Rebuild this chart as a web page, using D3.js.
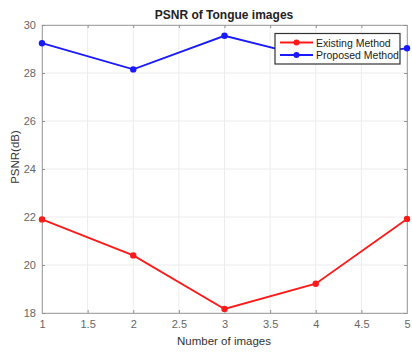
<!DOCTYPE html>
<html>
<head>
<meta charset="utf-8">
<script src="https://cdn.jsdelivr.net/npm/d3@7"></script>
<style>
  body { margin: 0; background: #fff; }
  svg { font-family: "Liberation Sans", Arial, sans-serif; }
</style>
</head>
<body>
<div id="holder"></div>
<script>
// data
const imageCounts = [1, 2, 3, 4, 5];
const existingMethod = [21.9, 20.4, 18.17, 19.22, 21.92];
const proposedMethod = [29.24, 28.15, 29.55, 28.6, 29.03];
const xTicks = [1, 1.5, 2, 2.5, 3, 3.5, 4, 4.5, 5];
const yTicks = [18, 20, 22, 24, 26, 28, 30];
const seriesNames = ["Existing Method", "Proposed Method"];

const w = 412;
const h = 352;
const padLeft = 42, padRight = 407, padTop = 25, padBottom = 313;

let svg = d3.select("#holder")
    .append("svg")
    .attr("width", w)
    .attr("height", h);

let xScale = d3.scaleLinear().domain([1, 5]).range([padLeft, padRight]);
let yScale = d3.scaleLinear().domain([18, 30]).range([padBottom, padTop]);

// grid
svg.append("g")
    .selectAll("line")
    .data(xTicks)
    .enter()
    .append("line")
    .attr("x1", d => xScale(d)).attr("x2", d => xScale(d))
    .attr("y1", padTop).attr("y2", padBottom)
    .attr("stroke", "#ececec").attr("stroke-width", 1);
svg.append("g")
    .selectAll("line")
    .data(yTicks)
    .enter()
    .append("line")
    .attr("x1", padLeft).attr("x2", padRight)
    .attr("y1", d => yScale(d)).attr("y2", d => yScale(d))
    .attr("stroke", "#ececec").attr("stroke-width", 1);

// box
svg.append("rect")
    .attr("x", padLeft).attr("y", padTop)
    .attr("width", padRight - padLeft).attr("height", padBottom - padTop)
    .attr("fill", "none").attr("stroke", "#dcdcdc").attr("stroke-width", 1);

// axes
const xAxis = d3.axisBottom(xScale).tickValues(xTicks).tickSize(-3).tickPadding(7).tickFormat(d3.format("~g"));
svg.append("g")
    .attr("transform", "translate(0," + padBottom + ")")
    .attr("id", "x-axis")
    .call(xAxis);
const xAxisTop = d3.axisTop(xScale).tickValues(xTicks).tickSize(-3).tickFormat("");
svg.append("g")
    .attr("transform", "translate(0," + padTop + ")")
    .call(xAxisTop);

const yAxis = d3.axisLeft(yScale).tickValues(yTicks).tickSize(-3).tickPadding(6);
svg.append("g")
    .attr("transform", "translate(" + padLeft + ",0)")
    .attr("id", "y-axis")
    .call(yAxis);
const yAxisRight = d3.axisRight(yScale).tickValues(yTicks).tickSize(-3).tickFormat("");
svg.append("g")
    .attr("transform", "translate(" + padRight + ",0)")
    .call(yAxisRight);

svg.selectAll(".domain").attr("stroke", "#a8a8a8").attr("stroke-width", 1);
svg.selectAll(".tick line").attr("stroke", "#909090");
svg.selectAll(".tick text")
    .attr("fill", "#666")
    .style("font-size", "11px");

// lines
const colors = ["#ff1a1a", "#1a1aff"];
const allSeries = [existingMethod, proposedMethod];

let valueLine = d3.line()
    .x((d, i) => xScale(imageCounts[i]))
    .y(d => yScale(d));

allSeries.forEach((vals, ind) => {
    svg.append("path")
        .attr("fill", "none")
        .attr("stroke", colors[ind])
        .attr("stroke-width", 1.8)
        .attr("d", valueLine(vals));
    svg.append("g")
        .selectAll("circle")
        .data(vals)
        .enter()
        .append("circle")
        .attr("cx", (d, i) => xScale(imageCounts[i]))
        .attr("cy", d => yScale(d))
        .attr("r", 3.2)
        .attr("fill", colors[ind]);
});

// legend
const legend = svg.append("g").attr("transform", "translate(275,33.5)");
legend.append("rect")
    .attr("width", 125).attr("height", 30.5)
    .attr("fill", "#fff")
    .attr("stroke", "#333").attr("stroke-width", 1.2);
seriesNames.forEach((name, ind) => {
    let y = 9 + ind * 12.5;
    legend.append("line")
        .attr("x1", 5).attr("x2", 38)
        .attr("y1", y).attr("y2", y)
        .attr("stroke", colors[ind]).attr("stroke-width", 1.8);
    legend.append("circle")
        .attr("cx", 21.5).attr("cy", y).attr("r", 3)
        .attr("fill", colors[ind]);
    legend.append("text")
        .attr("x", 41).attr("y", y + 4)
        .attr("fill", "#222")
        .style("font-size", "10.5px")
        .text(name);
});

// labels
svg.append("text")
    .attr("x", 224)
    .attr("y", 19)
    .attr("text-anchor", "middle")
    .attr("fill", "#222")
    .style("font-size", "12px")
    .style("font-weight", "bold")
    .text("PSNR of Tongue images");

svg.append("text")
    .attr("x", 224)
    .attr("y", 345)
    .attr("text-anchor", "middle")
    .attr("fill", "#333")
    .style("font-size", "11.5px")
    .text("Number of images");

svg.append("text")
    .attr("transform", "translate(19,157) rotate(-90)")
    .attr("text-anchor", "middle")
    .attr("fill", "#333")
    .style("font-size", "11.5px")
    .text("PSNR(dB)");
</script>
</body>
</html>
